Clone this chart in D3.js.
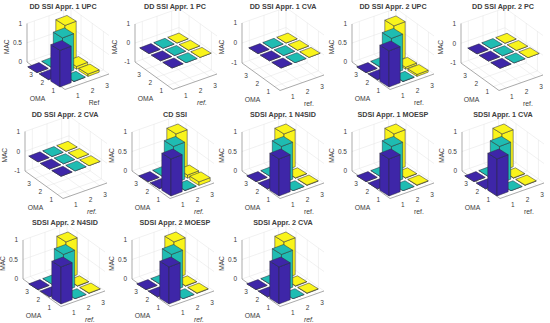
<!DOCTYPE html>
<html>
<head>
<meta charset="utf-8">
<script src="https://cdn.jsdelivr.net/npm/d3@7"></script>
<style>
body { margin: 0; background: #fff; }
text { font-family: "Liberation Sans", Arial, sans-serif; fill: #404040; }
</style>
</head>
<body>
<div id="chart"></div>
<script>
var svgWidth = 550;
var svgHeight = 323;

var titles = ["DD SSI Appr. 1 UPC", "DD SSI Appr. 1 PC", "DD SSI Appr. 1 CVA", "DD SSI Appr. 2 UPC", "DD SSI Appr. 2 PC",
              "DD SSI Appr. 2 CVA", "CD SSI", "SDSI Appr. 1 N4SID", "SDSI Appr. 1 MOESP", "SDSI Appr. 1 CVA",
              "SDSI Appr. 2 N4SID", "SDSI Appr. 2 MOESP", "SDSI Appr. 2 CVA"];
var refLabels = ["Ref", "ref.", "ref.", "ref.", "ref.", "ref.", "ref.", "ref.", "ref.", "ref.", "ref.", "ref.", "ref."];
var refItalic = [0, 1, 0, 0, 0, 1, 1, 0, 0, 0, 1, 1, 1];
var modes = [1, 2, 3];

// MAC values, rows are OMA 1..3, columns are ref 1..3
var macUpc1 = [[0.95, 0.01, 0.06], [0.01, 0.95, 0.07], [0.00, 0.01, 0.95]];
var macFlat = [[0, 0, 0], [0, 0, 0], [0, 0, 0]];
var macUpc2 = [[0.95, 0.01, 0.05], [0.01, 0.95, 0.05], [0.00, 0.01, 0.95]];
var macCd = [[0.95, 0.01, 0.09], [0.01, 0.95, 0.08], [0.00, 0.01, 0.95]];
var macSdsi = [[0.95, 0.00, 0.01], [0.00, 0.95, 0.01], [0.00, 0.00, 0.95]];
var panelMac = [macUpc1, macFlat, macFlat, macUpc2, macFlat, macFlat, macCd, macSdsi, macSdsi, macSdsi, macSdsi, macSdsi, macSdsi];

// layout of each panel: z axis, centre of the front bar, title
var axisX = [27, 135, 242, 352, 461, 25, 132, 242, 352, 462, 23, 132, 242];
var axisBottom = [62, 62, 63, 62, 63, 171, 171, 171, 171, 171, 279, 279, 279];
var axisTop = [23.5, 24, 23, 24, 23.5, 131.5, 132, 132, 132, 132, 240, 240, 240];
var frontX = [61, 173, 282, 390, 501, 62, 172, 280, 390, 498, 62, 170, 280];
var titleX = [63, 175, 283, 393, 503, 65, 175, 283, 393, 503, 65, 175, 283];
var titleY = [9, 9, 9, 9, 9, 117, 117, 117, 117, 117, 225, 225, 225];
var colors = ["#3e26a8", "#1fbcb2", "#f9f41c"];

var svg = d3.select("#chart").append("svg")
            .attr("width", svgWidth)
            .attr("height", svgHeight);

var line = d3.line();

function drawPanel(i) {
    var flat = panelMac[i] === macFlat;
    var zTicks = flat ? [-1, 0, 1] : [0, 0.5, 1];
    var zScale = d3.scaleLinear()
                   .domain(flat ? [-1, 1] : [0, 1])
                   .range([axisBottom[i], axisTop[i]]);
    var zMin = zScale.domain()[0];
    var zMax = zScale.domain()[1];

    // bars: screen offset from the centre of the front bar
    var omaX = d3.scaleLinear().domain([1, 3]).range([0, -23]);
    var omaY = d3.scaleLinear().domain([1, 3]).range([0, -14.4]);
    var refX = d3.scaleLinear().domain([1, 3]).range([0, 28]);
    var refY = d3.scaleLinear().domain([1, 3]).range([0, -10.6]);

    function project(o, r, z) {
        return [frontX[i] + omaX(o) + refX(r),
                zScale(z) + 20 + omaY(o) + refY(r)];
    }

    // axes box: u runs left corner to front corner, v runs front corner to right corner
    var boxOma = d3.scaleLinear().domain([3.9, 0.5]).range([0, 1]);
    var boxRef = d3.scaleLinear().domain([0.5, 3.5]).range([0, 1]);

    function boxPoint(u, v, z) {
        return [axisX[i] + u * 38 + v * 44,
                zScale(z) + u * 27.5 - v * 15.5];
    }

    var g = svg.append("g").attr("class", "panel");

    function seg(a, b, color) {
        g.append("path")
         .attr("d", line([a, b]))
         .attr("stroke", color)
         .attr("stroke-width", 0.5)
         .attr("fill", "none");
    }

    // back walls and floor grid
    var gridColor = "#e2e2e2";
    zTicks.forEach(function(z) {
        seg(boxPoint(0, 0, z), boxPoint(0, 1, z), gridColor);
        seg(boxPoint(0, 1, z), boxPoint(1, 1, z), gridColor);
    });
    modes.forEach(function(m) {
        var u = boxOma(m), v = boxRef(m);
        seg(boxPoint(u, 0, zMin), boxPoint(u, 1, zMin), gridColor);
        seg(boxPoint(0, v, zMin), boxPoint(1, v, zMin), gridColor);
        seg(boxPoint(u, 1, zMin), boxPoint(u, 1, zMax), gridColor);
        seg(boxPoint(0, v, zMin), boxPoint(0, v, zMax), gridColor);
    });
    seg(boxPoint(0, 1, zMin), boxPoint(0, 1, zMax), gridColor);

    // axis lines
    var axisColor = "#555";
    seg(boxPoint(0, 0, zMin), boxPoint(0, 0, zMax), axisColor);
    seg(boxPoint(0, 0, zMin), boxPoint(1, 0, zMin), axisColor);
    seg(boxPoint(1, 0, zMin), boxPoint(1, 1, zMin), axisColor);

    // bars, back to front
    var cells = [];
    modes.forEach(function(o) {
        modes.forEach(function(r) {
            cells.push({o: o, r: r, v: panelMac[i][o - 1][r - 1]});
        });
    });
    cells.sort(function(a, b) { return (b.o + b.r) - (a.o + a.r); });

    var half = 0.4;
    cells.forEach(function(d) {
        var o0 = d.o - half, o1 = d.o + half, r0 = d.r - half, r1 = d.r + half;
        var faces = [
            [[o1, r0, 0], [o0, r0, 0], [o0, r0, d.v], [o1, r0, d.v]],
            [[o0, r0, 0], [o0, r1, 0], [o0, r1, d.v], [o0, r0, d.v]],
            [[o1, r0, d.v], [o0, r0, d.v], [o0, r1, d.v], [o1, r1, d.v]]
        ];
        faces.forEach(function(face) {
            g.append("path")
             .attr("d", line(face.map(function(p) { return project(p[0], p[1], p[2]); })) + "Z")
             .attr("fill", colors[d.r - 1])
             .attr("stroke", "#2a2a3a")
             .attr("stroke-width", 0.5)
             .attr("stroke-linejoin", "round");
        });
    });

    // tick labels
    zTicks.forEach(function(z) {
        var p = boxPoint(0, 0, z);
        g.append("text")
         .attr("x", p[0] - 5).attr("y", p[1] + 2.3)
         .attr("text-anchor", "end").attr("font-size", 6.5)
         .text(z);
    });
    modes.forEach(function(m) {
        var p = boxPoint(boxOma(m), 0, zMin);
        g.append("text")
         .attr("x", p[0] - 6).attr("y", p[1] + 7.8)
         .attr("text-anchor", "middle").attr("font-size", 6.5)
         .text(m);
        var q = boxPoint(1, boxRef(m), zMin);
        g.append("text")
         .attr("x", q[0] + 5.5).attr("y", q[1] + 11)
         .attr("text-anchor", "middle").attr("font-size", 6.5)
         .text(m);
    });

    // axis labels
    var mid = (axisTop[i] + axisBottom[i]) / 2;
    g.append("text")
     .attr("transform", "translate(" + (axisX[i] - 18) + "," + (mid + 4) + ") rotate(-90)")
     .attr("text-anchor", "middle").attr("font-size", 6.6)
     .text("MAC");
    g.append("text")
     .attr("x", axisX[i] + 10.5).attr("y", axisBottom[i] + 38.5)
     .attr("text-anchor", "middle").attr("font-size", 6.8)
     .text("OMA");
    g.append("text")
     .attr("x", axisX[i] + 67).attr("y", axisBottom[i] + 42.5)
     .attr("text-anchor", "middle").attr("font-size", 6.8)
     .attr("font-style", refItalic[i] ? "italic" : "normal")
     .text(refLabels[i]);

    g.append("text")
     .attr("x", titleX[i]).attr("y", titleY[i])
     .attr("text-anchor", "middle").attr("font-size", 7.2).attr("font-weight", "bold")
     .text(titles[i]);
}

titles.forEach(function(t, i) { drawPanel(i); });
</script>
</body>
</html>
